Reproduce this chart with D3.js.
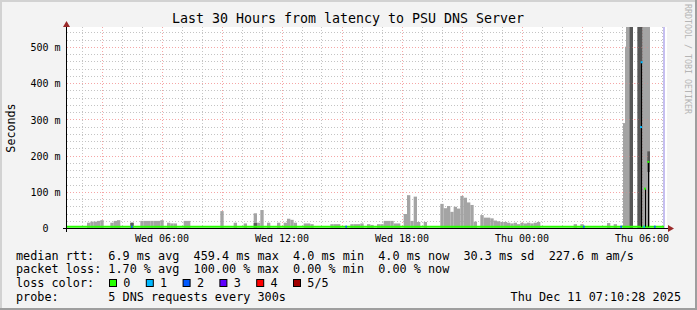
<!DOCTYPE html>
<html>
<head>
<meta charset="utf-8">
<script src="https://cdn.jsdelivr.net/npm/d3@7"></script>
<style>
  html, body { margin: 0; padding: 0; background: #f3f3f3; }
  text { font-family: "DejaVu Sans Mono", monospace; }
</style>
</head>
<body>
<div id="chart"></div>
<script>
// Data (values in ms)
const title = "Last 30 Hours from latency to PSU DNS Server";
const timeStart = "2025-12-10 01:15";
const timeEnd = "2025-12-11 07:15";
const nowTime = "2025-12-11 07:06";
const binMinutes = 10;

// max of the smoke per 10 minute bin, from Wed 01:15
const smokeMs = [
  0, 0, 0, 0, 0, 0, 16, 19, 19, 21, 23, 0, 0, 16, 21, 23, 0, 0,
  0, 16, 0, 0, 21, 21, 21, 21, 21, 21, 23, 0, 16, 14, 14, 0, 0, 21,
  21, 0, 0, 0, 0, 0, 0, 0, 0, 0, 48, 0, 0, 0, 16, 0, 0, 14,
  0, 0, 42, 16, 51, 0, 16, 0, 0, 16, 0, 16, 27, 24, 16, 0, 0, 14,
  14, 12, 0, 0, 0, 0, 0, 12, 12, 12, 0, 0, 0, 12, 12, 12, 14, 0,
  12, 10, 0, 12, 12, 21, 21, 21, 14, 14, 0, 40, 92, 21, 88, 18, 0, 18,
  0, 0, 0, 0, 68, 56, 62, 46, 60, 55, 90, 85, 72, 65, 19, 0, 37, 30,
  30, 28, 22, 20, 18, 18, 16, 14, 16, 12, 16, 14, 16, 14, 16, 18, 0, 0,
  0, 0, 0, 0, 0, 0, 0, 0, 12, 0, 12, 0, 0, 0, 0, 0, 0, 0,
  15, 0, 12, 0, 0, 0, 0, 0, 0, 0, 0, 0, 0, 0, 0, 0, 0, 0
];
// darker smoke bands
const darkBin = [19, 56];
const darkMs = [16, 15];

// the burst on Thursday morning
const spikeFrom = ["2025-12-11 05:03", "2025-12-11 05:09", "2025-12-11 05:12", "2025-12-11 05:22", "2025-12-11 05:46", "2025-12-11 06:02", "2025-12-11 06:16"];
const spikeTo   = ["2025-12-11 05:09", "2025-12-11 05:12", "2025-12-11 05:22", "2025-12-11 05:33", "2025-12-11 06:02", "2025-12-11 06:24", "2025-12-11 06:24"];
const spikeLo   = [0, 0, 0, 0, 0, 0, 156];
const spikeHi   = [291, 502, 600, 600, 600, 600, 213];
const spikeDark = [false, false, false, true, true, false, true];

// median rtt
const medianTime = ["2025-12-10 01:15", "2025-12-11 07:06"];
const medianMs = [5, 5];
const peakTime = ["2025-12-11 05:57", "2025-12-11 05:59", "2025-12-11 06:09", "2025-12-11 06:19"];
const peakMs = [280, 459, 110, 184];
const peakLoss = [1, 1, 0, 0];

// steps with packet loss
const lossTime = ["2025-12-10 04:27", "2025-12-10 15:10", "2025-12-11 03:03", "2025-12-11 04:55", "2025-12-11 06:04", "2025-12-11 06:36"];
const lossCount = [2, 2, 2, 2, 1, 2];

const lossLabels = ["0", "1", "2", "3", "4", "5/5"];
const lossColors = ["#26ff00", "#00b8ff", "#0059ff", "#5e00ff", "#ff0000", "#a10000"];

const yTicks = [0, 100, 200, 300, 400, 500];
const legendLines = [
  "median rtt:  6.9 ms avg  459.4 ms max  4.0 ms min  4.0 ms now  30.3 ms sd  227.6 m am/s",
  "packet loss: 1.70 % avg  100.00 % max  0.00 % min  0.00 % now",
  "loss color:",
  "probe:       5 DNS requests every 300s"
];
const stamp = "Thu Dec 11 07:10:28 2025";

// ---------------------------------------------------------------
const W = 697, H = 310;
const parse = d3.timeParse("%Y-%m-%d %H:%M");
const t0 = parse(timeStart);

const x = d3.scaleTime().domain([t0, parse(timeEnd)]).range([67, 667]);
const y = d3.scaleLinear().domain([0, 555]).range([228.5, 27.5]);
const crisp = v => Math.round(v - 0.5) + 0.5;

const svg = d3.select("#chart").append("svg")
    .attr("width", W).attr("height", H);

svg.append("rect").attr("width", W).attr("height", H).attr("fill", "#f3f3f3");
// frame shading
svg.append("path").attr("d", `M1,${H} V1 H${W}`).attr("fill", "none")
    .attr("stroke", "#d2d2d2").attr("stroke-width", 2);
svg.append("path").attr("d", `M0,${H - 1} H${W - 1} V0`).attr("fill", "none")
    .attr("stroke", "#9e9e9e").attr("stroke-width", 2);

// canvas
svg.append("rect").attr("x", 67).attr("y", 27).attr("width", 600).attr("height", 201).attr("fill", "#fff");

svg.append("clipPath").attr("id", "plot")
  .append("rect").attr("x", 67).attr("y", 27).attr("width", 600).attr("height", 202);

const g = svg.append("g").attr("clip-path", "url(#plot)");

// grid
const grid = g.append("g").attr("stroke-dasharray", "1,2").attr("stroke-width", 1);
grid.selectAll(".vmin").data(x.ticks(d3.timeHour.every(1)))
  .join("line").attr("class", "vmin")
    .attr("x1", d => crisp(x(d))).attr("x2", d => crisp(x(d)))
    .attr("y1", 27).attr("y2", 228).attr("stroke", "#c4c4c4");
grid.selectAll(".hmin").data(d3.range(20, 556, 20))
  .join("line").attr("class", "hmin")
    .attr("x1", 67).attr("x2", 667)
    .attr("y1", d => crisp(y(d))).attr("y2", d => crisp(y(d))).attr("stroke", "#c4c4c4");
grid.selectAll(".vmaj").data(x.ticks(d3.timeHour.every(3)))
  .join("line").attr("class", "vmaj")
    .attr("x1", d => crisp(x(d))).attr("x2", d => crisp(x(d)))
    .attr("y1", 27).attr("y2", 228).attr("stroke", "#f5a6a6");
grid.selectAll(".hmaj").data(yTicks.filter(d => d > 0))
  .join("line").attr("class", "hmaj")
    .attr("x1", 67).attr("x2", 667)
    .attr("y1", d => crisp(y(d))).attr("y2", d => crisp(y(d))).attr("stroke", "#f5a6a6");

// smoke
const binTime = i => d3.timeMinute.offset(t0, i * binMinutes);
g.append("g").attr("fill", "#a4a4a4")
  .selectAll("rect").data(smokeMs.map((v, i) => ({ i, v })).filter(d => d.v > 0))
  .join("rect")
    .attr("x", d => x(binTime(d.i)))
    .attr("width", d => x(binTime(d.i + 1)) - x(binTime(d.i)))
    .attr("y", d => y(d.v))
    .attr("height", d => y(0) - y(d.v));

g.append("g").attr("fill", "#5a5a5a")
  .selectAll("rect").data(darkBin.map((b, k) => ({ i: b, v: darkMs[k] })))
  .join("rect")
    .attr("x", d => x(binTime(d.i)))
    .attr("width", d => x(binTime(d.i + 1)) - x(binTime(d.i)))
    .attr("y", d => y(d.v))
    .attr("height", d => y(0) - y(d.v));

g.append("g")
  .selectAll("rect").data(spikeFrom.map((f, k) => ({ f: parse(f), t: parse(spikeTo[k]), lo: spikeLo[k], hi: spikeHi[k], dark: spikeDark[k] })))
  .join("rect")
    .attr("x", d => x(d.f))
    .attr("width", d => x(d.t) - x(d.f))
    .attr("y", d => y(d.hi))
    .attr("height", d => y(d.lo) - y(d.hi))
    .attr("fill", d => d.dark ? "#575757" : "#a4a4a4");

// faint grid over the smoke
g.append("g").attr("stroke-dasharray", "1,2").attr("opacity", 0.35)
  .selectAll("line").data(yTicks.filter(d => d > 0))
  .join("line")
    .attr("x1", x(parse(spikeFrom[0]))).attr("x2", x(parse(spikeTo[5])))
    .attr("y1", d => crisp(y(d))).attr("y2", d => crisp(y(d))).attr("stroke", "#f08080");

// "now" rule
svg.append("line")
    .attr("x1", x(parse(nowTime))).attr("x2", x(parse(nowTime)))
    .attr("y1", 27).attr("y2", 228)
    .attr("stroke", "#c6bff0").attr("stroke-width", 2);

// median line
const line = d3.line().x(d => x(d[0])).y(d => y(d[1]));
svg.append("path")
    .datum(medianTime.map((t, i) => [parse(t), medianMs[i]]))
    .attr("d", line)
    .attr("fill", "none").attr("stroke", lossColors[0]).attr("stroke-width", 2);

// loss coloured steps
svg.append("g").selectAll("rect").data(lossTime.map((t, i) => ({ t: parse(t), c: lossCount[i] })))
  .join("rect")
    .attr("x", d => x(d.t))
    .attr("width", d => x(d3.timeMinute.offset(d.t, 5)) - x(d.t))
    .attr("y", y(5) - 1).attr("height", 2)
    .attr("fill", d => lossColors[d.c]);

// peak medians
const peaks = peakTime.map((t, i) => ({ t: parse(t), v: peakMs[i], c: peakLoss[i] }));
svg.append("g").selectAll("line").data(peaks)
  .join("line")
    .attr("x1", d => crisp(x(d.t))).attr("x2", d => crisp(x(d.t)))
    .attr("y1", d => y(d.v)).attr("y2", y(5))
    .attr("stroke", "#000").attr("stroke-width", 1);
svg.append("g").selectAll("rect").data(peaks)
  .join("rect")
    .attr("x", d => x(d.t) - 1)
    .attr("width", 2)
    .attr("y", d => y(d.v) - 1).attr("height", 2)
    .attr("fill", d => lossColors[d.c]);

// axes
svg.append("line").attr("x1", 63).attr("x2", 669).attr("y1", 228.5).attr("y2", 228.5)
    .attr("stroke", "#000");
svg.append("line").attr("x1", 66.5).attr("x2", 66.5).attr("y1", 232).attr("y2", 25)
    .attr("stroke", "#000");
svg.append("path").attr("d", "M668,225 L668,232 L674,228.5 Z").attr("fill", "#9b2a2a");
svg.append("path").attr("d", "M63,27 L70,27 L66.5,21 Z").attr("fill", "#9b2a2a");

// x labels
svg.append("g").selectAll("text").data(x.ticks(d3.timeHour.every(6)))
  .join("text")
    .attr("x", d => x(d)).attr("y", 242)
    .attr("text-anchor", "middle")
    .attr("font-size", "10px")
    .text(d3.timeFormat("%a %H:%M"));

// y labels
svg.append("g").selectAll("text").data(yTicks)
  .join("text")
    .attr("x", d => d === 0 ? 48.5 : 60.5)
    .attr("y", d => y(d) + 3.7)
    .attr("text-anchor", "end")
    .attr("font-size", "10px")
    .text(d => d === 0 ? "0" : `${d} m`);

svg.append("text")
    .attr("transform", "translate(15,128) rotate(-90)")
    .attr("text-anchor", "middle")
    .attr("font-size", "11.7px")
    .text("Seconds");

svg.append("text")
    .attr("x", 348).attr("y", 23)
    .attr("text-anchor", "middle")
    .attr("font-size", "13.3px")
    .text(title);

svg.append("text")
    .attr("transform", "translate(684.5,4) rotate(90)")
    .attr("font-size", "8.3px")
    .attr("fill", "#b5b5b5")
    .text("RRDTOOL / TOBI OETIKER");

// legend
const baselines = [259.5, 273, 287, 300.5];
svg.append("g").selectAll("text").data(legendLines)
  .join("text")
    .attr("x", 16).attr("y", (d, i) => baselines[i])
    .attr("font-size", "11.8px")
    .attr("xml:space", "preserve")
    .style("white-space", "pre")
    .text(d => d);

const lc = svg.append("g").selectAll("g").data(lossLabels)
  .join("g")
    .attr("transform", (d, i) => `translate(${109 + i * 36.8},279)`);
lc.append("rect")
    .attr("x", 0.5).attr("y", 0.5).attr("width", 7).attr("height", 7)
    .attr("fill", (d, i) => lossColors[i])
    .attr("stroke", "#000");
lc.append("text")
    .attr("x", 14.3).attr("y", 8)
    .attr("font-size", "11.8px")
    .text(d => d);

svg.append("text")
    .attr("x", 681).attr("y", 300.5)
    .attr("text-anchor", "end")
    .attr("font-size", "11.8px")
    .text(stamp);
</script>
</body>
</html>
